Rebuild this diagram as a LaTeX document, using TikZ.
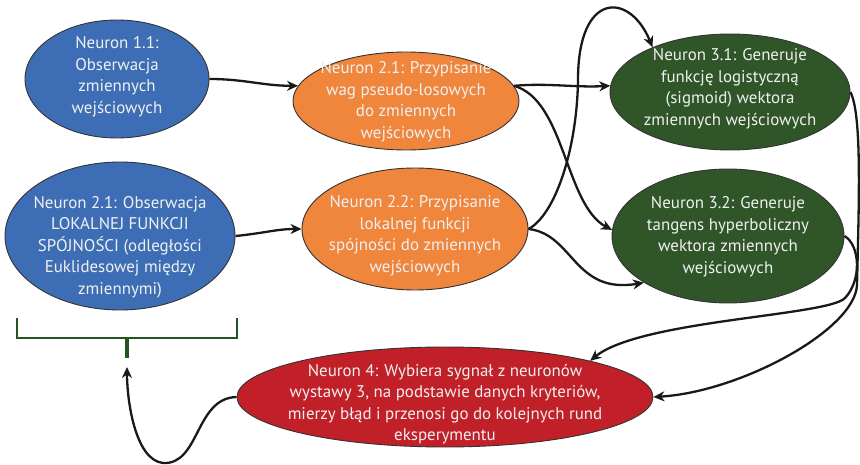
\documentclass[tikz,border=0pt]{standalone}
\usepackage{fontspec}
\setmainfont{PT Sans}
\usetikzlibrary{shapes.geometric,arrows.meta}
\definecolor{nblue}{RGB}{61,110,181}
\definecolor{norange}{RGB}{240,133,60}
\definecolor{ngreen}{RGB}{47,85,41}
\definecolor{nred}{RGB}{193,32,40}
\definecolor{bgreen}{RGB}{35,85,35}
\definecolor{txtc}{RGB}{240,240,240}
\tikzset{
  neuron/.style={ellipse, draw=black!80, line width=0.9pt, inner sep=0pt},
  ntext/.style={text=txtc, align=center, font=\fontsize{16.9}{21.5}\selectfont, inner sep=0pt},
  conn/.style={line width=2.3pt, draw=black!90, -{Stealth[length=11pt,width=10pt,inset=3.5pt]}},
  bracebar/.style={draw=bgreen, line width=2.5pt},
}
\begin{document}
\begin{tikzpicture}[x=1pt,y=-1pt]
\useasboundingbox (0,0) rectangle (860,465);

% neurons
\node[neuron, fill=nblue, minimum width=184pt, minimum height=118pt] (n11) at (117,79) {};
\node[ntext] (t11) at (117,77) {Neuron 1.1:\\Obserwacja\\zmiennych\\wejściowych};

\node[neuron, fill=nblue, minimum width=230pt, minimum height=148pt] (n21b) at (120,236) {};
\node[ntext] (t21b) at (120,247) {Neuron 2.1: Obserwacja\\LOKALNEJ FUNKCJI\\SPÓJNOŚCI (odległości\\Euklidesowej między\\zmiennymi)};

\node[neuron, fill=norange, minimum width=226pt, minimum height=98pt] (n21o) at (406,101) {};
\node[ntext] (t21o) at (406,102) {Neuron 2.1: Przypisanie\\wag pseudo-losowych\\do zmiennych\\wejściowych};

\node[neuron, fill=norange, minimum width=226pt, minimum height=122pt] (n22) at (415,229) {};
\node[ntext] (t22) at (415,236) {Neuron 2.2: Przypisanie\\lokalnej funkcji\\spójności do zmiennych\\wejściowych};

\node[neuron, fill=ngreen, minimum width=240pt, minimum height=116pt] (n31) at (730,92) {};
\node[ntext] (t31) at (730,89) {Neuron 3.1: Generuje\\funkcję logistyczną\\(sigmoid) wektora\\zmiennych wejściowych};

\node[neuron, fill=ngreen, minimum width=232pt, minimum height=134pt] (n32) at (728,236) {};
\node[ntext] (t32) at (728,237) {Neuron 3.2: Generuje\\tangens hyperboliczny\\wektora zmiennych\\wejściowych};

\node[neuron, fill=nred, minimum width=416pt, minimum height=100pt] (n4) at (445,397) {};
\node[ntext] (t4) at (445,404) {Neuron 4: Wybiera sygnał z neuronów\\wystawy 3, na podstawie danych kryteriów,\\mierzy błąd i przenosi go do kolejnych rund\\eksperymentu};

% bracket
\draw[bracebar] (17,318) -- (17,338) -- (237,338) -- (237,318);
\draw[bracebar, line width=4pt] (127,338) -- (127,358);
\coordinate (brtip) at (127,367);

% connectors
\draw[conn] (n11.east) .. controls +(35,0) and +(-35,0) .. (n21o.172);
\draw[conn] (n21b.east) .. controls +(30,-3) and +(-25,0) .. (n22.west);
\draw[conn] (n21o.8) .. controls +(35,-3) and +(-35,2) .. (n31.177);
\draw[conn] (n21o.8) .. controls (565,100) and (565,205) .. (n32.177);
\draw[conn] (n22.east) .. controls (555,215) and (577,150) .. (578,80) .. controls (578,-10) and (630,-8) .. (n31.150);
\draw[conn] (n22.east) .. controls +(45,5) and +(-70,12) .. (n32.209);
\draw[conn] (n31.east) .. controls (862,115) and (859,200) .. (857,285) .. controls (855,330) and (740,392) .. (n4.east);
\draw[conn] (n32.east) .. controls (860,245) and (862,280) .. (845,298) .. controls (828,316) and (640,320) .. (n4.14);
\draw[conn] (n4.west) .. controls (195,398) and (200,465) .. (163,463) .. controls (135,460) and (127,400) .. (brtip);
\end{tikzpicture}
\end{document}
